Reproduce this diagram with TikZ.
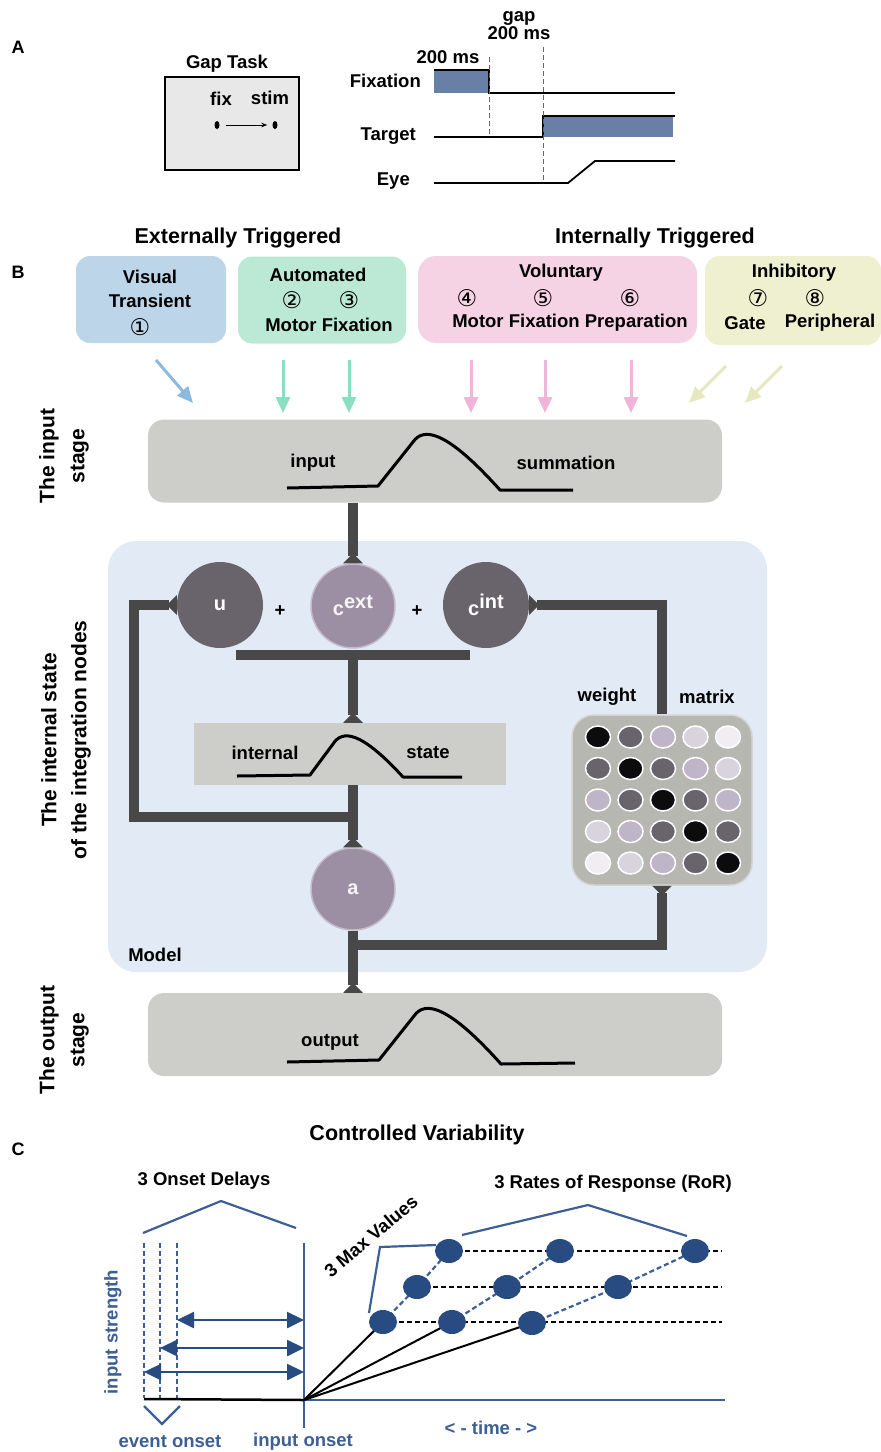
\documentclass[tikz,border=0pt]{standalone}
\usepackage{fontspec}
\setmainfont{Liberation Sans}
\newfontfamily\circfont{DejaVu Sans}
\usetikzlibrary{arrows.meta,shapes.geometric,positioning}
\definecolor{tblue}{RGB}{104,128,166}
\definecolor{visbox}{RGB}{189,213,232}
\definecolor{autbox}{RGB}{188,233,214}
\definecolor{volbox}{RGB}{246,211,228}
\definecolor{inhbox}{RGB}{239,240,208}
\definecolor{visarr}{RGB}{140,186,222}
\definecolor{autarr}{RGB}{140,222,192}
\definecolor{volarr}{RGB}{240,180,216}
\definecolor{inharr}{RGB}{230,232,192}
\definecolor{stagegrey}{RGB}{205,206,201}
\definecolor{modelbg}{RGB}{226,234,245}
\definecolor{wirec}{RGB}{72,72,72}
\definecolor{unitdark}{RGB}{105,99,107}
\definecolor{unitlight}{RGB}{157,143,163}
\definecolor{matbg}{RGB}{183,183,178}
\definecolor{wt0}{RGB}{12,12,14}
\definecolor{wt1}{RGB}{105,99,107}
\definecolor{wt2}{RGB}{192,180,200}
\definecolor{wt3}{RGB}{216,211,220}
\definecolor{wt4}{RGB}{240,238,242}
\definecolor{cdark}{RGB}{40,75,130}
\definecolor{cline}{RGB}{60,95,150}

\begin{document}
\begin{tikzpicture}[x=1pt, y=-1pt,
  lab/.style={font=\fontsize{18.5}{22}\selectfont\bfseries, inner sep=0pt},
  ttl/.style={font=\fontsize{21.5}{25}\selectfont\bfseries, inner sep=0pt},
  pan/.style={font=\fontsize{18}{21}\selectfont\bfseries, inner sep=0pt},
  circ/.style={font=\circfont\fontsize{23}{26}\selectfont, inner sep=0pt},
  side/.style={font=\fontsize{21}{30}\selectfont\bfseries, rotate=90, align=center, inner sep=0pt},
  catbox/.style={rounded corners=14pt, minimum height=87pt, inner sep=0pt},
  stagebox/.style={fill=stagegrey, rounded corners=16pt, minimum width=574pt, minimum height=83pt, inner sep=0pt},
  inarr/.style={line width=3pt, -{Triangle[length=16pt,width=14pt]}},
  wire/.style={draw=wirec, line width=10pt},
  fl/.style={-{Triangle[reversed,length=10pt,width=19pt]}},
  flb/.style={{Triangle[reversed,length=10pt,width=19pt]}-},
  unit/.style={circle, minimum size=86pt, inner sep=0pt, font=\fontsize{20}{24}\selectfont\bfseries},
  wdot/.style={ellipse, minimum width=25pt, minimum height=22pt, draw=white, line width=1.5pt, inner sep=0pt},
  cdot/.style={ellipse, minimum width=28pt, minimum height=24pt, fill=cdark, inner sep=0pt},
  curve/.style={line width=3pt, line join=round},
  brk/.style={draw=cline, line width=2.2pt},
  darr/.style={draw=cdark, line width=2.5pt, {Triangle[length=17pt,width=16pt]}-{Triangle[length=17pt,width=16pt]}},
  ctext/.style={lab, text=cline},
]
\useasboundingbox (0,0) rectangle (881,1452);

% panel A
\node[pan] (pA) at (18,47) {A};
\node[lab] (gtitle) at (227,64) {Gap Task};
\node[draw, line width=1.5pt, fill=black!9, minimum width=134pt, minimum height=93pt, inner sep=0pt] (gbox) at (232,123.5) {};
\node[lab] (fix) at (221,99) {fix};
\node[lab] (stim) at (270,98) {stim};
\node[ellipse, fill=black, minimum width=5pt, minimum height=8pt, inner sep=0pt] (fixdot) at (217,125) {};
\node[ellipse, fill=black, minimum width=5pt, minimum height=8pt, inner sep=0pt] (stimdot) at (275,125) {};
\draw[line width=1pt, -{Stealth[length=6pt]}, shorten <=6pt, shorten >=5pt] (fixdot) -- (stimdot);

\node[lab, anchor=east] (lfix) at (421,81) {Fixation};
\node[lab, anchor=east] (ltar) at (416,136) {Target};
\node[lab, anchor=east] (leye) at (410,181) {Eye};
\node[lab] (t200) at (448,57) {200 ms};
\node[lab, align=center, font=\fontsize{18.5}{18}\selectfont\bfseries] (tgap) at (519,26) {gap\\200 ms};
\fill[tblue] (434,70) rectangle (489,93);
\fill[tblue] (543,116) rectangle (673,137);
\draw[line width=1.8pt] (434,70) -- (489,70) -- (489,93) -- (675,93);
\draw[line width=1.8pt] (434,137) -- (543,137) -- (543,116) -- (675,116);
\draw[line width=1.8pt] (434,183) -- (568,183) -- (595,161) -- (675,161);
\draw[black!60, dash pattern=on 5pt off 3pt, line width=0.8pt] (489,57) -- (489,137);
\draw[black!60, dash pattern=on 5pt off 3pt, line width=0.8pt] (543,47) -- (543,183);

% panel B
\node[pan] (pB) at (18,272) {B};
\node[ttl] (ext) at (238,238) {Externally Triggered};
\node[ttl] (int) at (655,238) {Internally Triggered};

\node[catbox, fill=visbox, minimum width=150pt] (vis) at (151,299.5) {};
\node[catbox, fill=autbox, minimum width=168pt] (aut) at (322,300) {};
\node[catbox, fill=volbox, minimum width=279pt, rounded corners=18pt] (vol) at (557.5,299.5) {};
\node[catbox, fill=inhbox, minimum width=176pt, minimum height=89pt] (inh) at (793,300.5) {};

\node[lab] (visa) at (150,277) {Visual};
\node[lab] (visb) at (150,301) {Transient};
\node[circ] (n1) at (140,327) {①};
\node[lab] (auta) at (318,275) {Automated};
\node[circ] (n2) at (292,300) {②};
\node[circ] (n3) at (349,300) {③};
\node[lab] (autb) at (329,325) {Motor Fixation};
\node[lab] (vola) at (561,273) {Voluntary};
\node[circ] (n4) at (467,298) {④};
\node[circ] (n5) at (543,298) {⑤};
\node[circ] (n6) at (630,298) {⑥};
\node[lab] (volb) at (570,323) {Motor Fixation Preparation};
\node[lab] (inha) at (794,273) {Inhibitory};
\node[circ] (n7) at (758,298) {⑦};
\node[circ] (n8) at (815,298) {⑧};
\node[lab] (gate) at (745,323) {Gate};
\node[lab] (peri) at (830,323) {Peripheral};

\draw[inarr, visarr] (156,360) -- (193,403);
\foreach \x in {283,349}
  \draw[inarr, autarr] (\x,360) -- (\x,413);
\foreach \x in {471,545,631}
  \draw[inarr, volarr] (\x,360) -- (\x,413);
\draw[inarr, inharr] (726,366) -- (689,403);
\draw[inarr, inharr] (782,366) -- (745,403);

% stages
\node[stagebox] (inbox) at (435,461) {};
\node[lab] (intxt) at (313,463) {input};
\node[lab] (sumtxt) at (566,463) {summation};
\draw[curve] (287,488) -- (378,486) -- (413,442) .. controls (424,426) and (448,432) .. (500,490) -- (573,490);

\node[fill=modelbg, rounded corners=28pt, minimum width=659pt, minimum height=431pt, inner sep=0pt] (model) at (437.5,756.5) {};
\node[lab] (mtxt) at (155,955) {Model};

\node[unit, fill=unitdark, text=white] (u) at (220,605) {u};
\node[unit, fill=unitlight, draw=unitlight!60!white, line width=1.5pt, minimum size=84pt, text=white!90!unitlight] (cext) at (353,606) {c\raisebox{7pt}{ext}};
\node[unit, fill=unitdark, text=white] (cint) at (486,605) {c\raisebox{7pt}{int}};
\node[lab] (plus1) at (280,611) {+};
\node[lab] (plus2) at (417,611) {+};
\node[fill=wirec, minimum width=234pt, minimum height=10pt, inner sep=0pt] (bar) at (353,655) {};

\node[fill=stagegrey, minimum width=312pt, minimum height=62pt, inner sep=0pt] (intbox) at (350,754) {};
\node[lab] (itxt) at (265,753) {internal};
\node[lab] (stxt) at (428,753) {state};
\draw[curve] (237,776) -- (310,775) -- (333,744) .. controls (342,730) and (360,730) .. (403,777) -- (462,777);

\node[unit, fill=unitlight, draw=unitlight!60!white, line width=1.5pt, ellipse, minimum width=84pt, minimum height=82pt, text=white!90!unitlight] (a) at (353,889) {a};

\node[fill=matbg, draw=matbg!60!white, line width=1.5pt, rounded corners=22pt, minimum width=180pt, minimum height=170pt, inner sep=0pt] (mat) at (662,800) {};
\node[lab] (wtxt) at (607,697) {weight};
\node[lab] (mtx) at (707,697) {matrix};
\foreach \i in {0,...,4}{
  \foreach \j in {0,...,4}{
    \pgfmathtruncatemacro\d{abs(\i-\j)}
    \node[wdot, fill=wt\d] (w\i\j) at (598+32.5*\j, 737+31.5*\i) {};
  }
}

\node[stagebox] (outbox) at (435,1034.5) {};
\node[lab] (otxt) at (330,1042) {output};
\draw[curve] (287,1062) -- (379,1060) -- (414,1016) .. controls (425,1000) and (449,1006) .. (501,1064) -- (575,1063);

\coordinate (loopj) at (353,817);
\coordinate (brj) at (353,945);
\draw[wire,fl] (inbox.south -| cext.north) -- (cext.north);
\draw[wire,fl] (bar.south) -- (bar.south |- intbox.north);
\draw[wire,fl] (intbox.south -| a.north) -- (a.north);
\draw[wire,fl] (a.south) -- (a.south |- outbox.north);
\draw[wire,flb] (u.west) -- ++(-43,0) |- (loopj);
\draw[wire,flb] (cint.east) -| (mat.north);
\draw[wire,fl] (brj) -| (mat.south);

\node[side] (sin) at (64,456) {The input\\stage};
\node[side] (sint) at (66,740) {The internal state\\of the integration nodes};
\node[side] (sout) at (64,1040) {The output\\stage};

% panel C
\node[pan] (pC) at (18,1149) {C};
\node[ttl] (cv) at (417,1135) {Controlled Variability};
\node[lab] (ond) at (204,1181) {3 Onset Delays};
\draw[brk] (143,1233) -- (221,1201) -- (296,1228);
\foreach \x in {144,160,177}
  \draw[brk, dash pattern=on 5pt off 3pt] (\x,1243) -- (\x,1398);
\coordinate (orig) at (304,1400);
\coordinate (endx) at (722,0);
\draw[brk] (304,1243) -- (304,1428);
\draw[line width=2.5pt] (144,1399) -- (orig);
\draw[brk] (orig) -- (725,1400);
\draw[darr] (177,1320) -- (304,1320);
\draw[darr] (160,1348) -- (304,1348);
\draw[darr] (144,1372) -- (304,1372);
\draw[brk] (144,1406) -- (162,1424) -- (180,1406);
\node[ctext, rotate=90] (istr) at (113,1332) {input strength};
\node[ctext] (eon) at (170,1442) {event onset};
\node[ctext] (ion) at (303,1442) {input onset};
\node[ctext] (time) at (491,1428) {< - time - >};

\coordinate (s11) at (383,1322);
\coordinate (s12) at (417,1287);
\coordinate (s13) at (449,1251);
\coordinate (s21) at (452,1322);
\coordinate (s22) at (507,1287);
\coordinate (s23) at (560,1251);
\coordinate (s31) at (532,1323);
\coordinate (s32) at (618,1287);
\coordinate (s33) at (695,1251);
\foreach \k in {1,2,3}
  \draw[line width=2pt] (orig) -- (s\k1);
\foreach \k in {1,2,3}
  \draw[line width=2pt, dash pattern=on 5pt off 3pt] (s1\k) -- (s1\k -| endx);
\foreach \k in {1,2,3}
  \draw[cline, line width=2.2pt, dash pattern=on 5pt off 3pt] (s\k1) -- (s\k2) -- (s\k3);
\foreach \k in {1,2,3}
  \foreach \l in {1,2,3}
    \node[cdot] (d\k\l) at (s\k\l) {};

\draw[brk] (369,1313) -- (380,1247) -- (436,1245);
\node[lab, rotate=40] (maxv) at (371,1236) {3 Max Values};
\draw[brk] (462,1235) -- (588,1205) -- (687,1236);
\node[lab] (ror) at (613,1184) {3 Rates of Response (RoR)};
\end{tikzpicture}
\end{document}
